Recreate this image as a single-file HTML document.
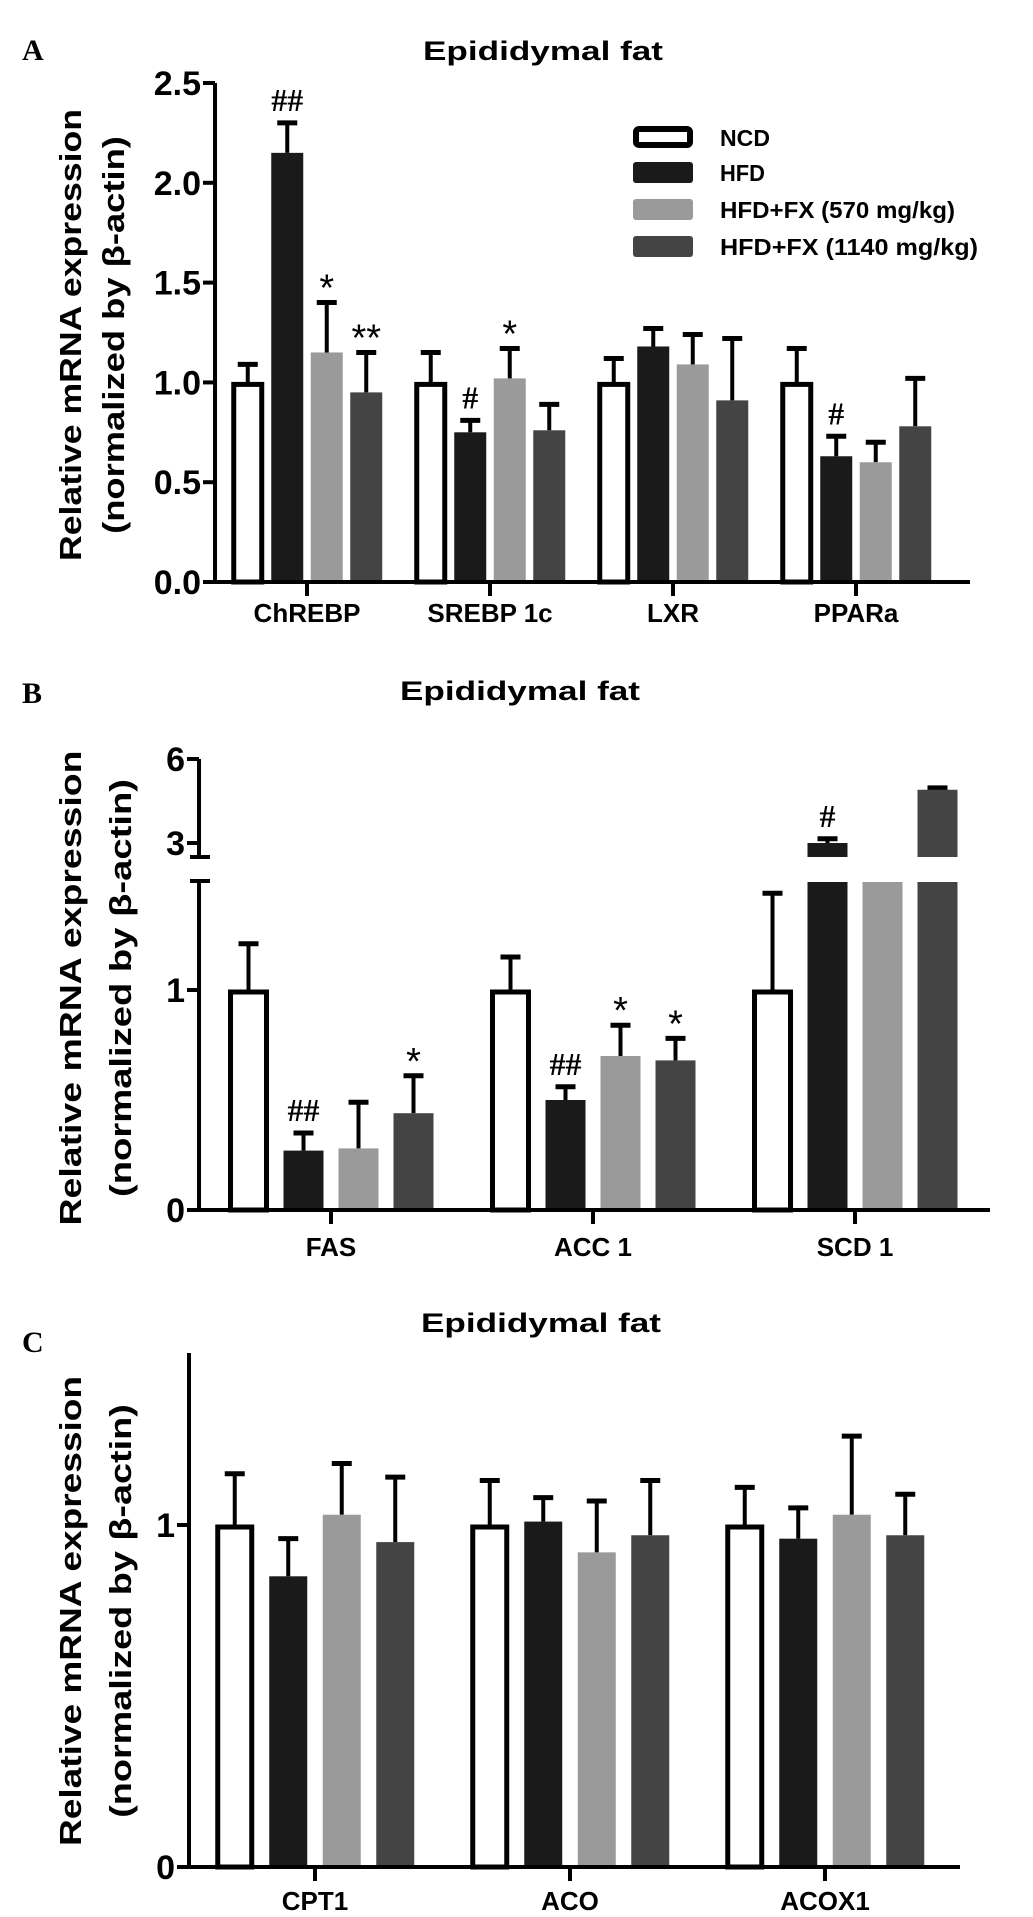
<!DOCTYPE html>
<html><head><meta charset="utf-8"><style>
html,body{margin:0;padding:0;background:#fff}
svg{display:block}
text{font-family:"Liberation Sans",sans-serif;font-weight:bold;fill:#000}
</style></head><body>
<svg id="fig" width="1033" height="1917" viewBox="0 0 1033 1917" xmlns="http://www.w3.org/2000/svg"></svg>
<script>
const groups=["NCD","HFD","HFD+FX (570 mg/kg)","HFD+FX (1140 mg/kg)"];
const fills=["#ffffff","#1a1a1a","#9a9a9a","#444444"];
// Panel A
const catsA=["ChREBP","SREBP 1c","LXR","PPARa"];
const valsA=[[1.0,2.15,1.15,0.95],[1.0,0.75,1.02,0.76],[1.0,1.18,1.09,0.91],[1.0,0.63,0.60,0.78]];
const errA=[[1.09,2.30,1.40,1.15],[1.15,0.81,1.17,0.89],[1.12,1.27,1.24,1.22],[1.17,0.73,0.70,1.02]];
const sigA=[["","##","*","**"],["","#","*",""],["","","",""],["","#","",""]];
const ticksA=[0,0.5,1.0,1.5,2.0,2.5];
const tickLabelsA=["0.0","0.5","1.0","1.5","2.0","2.5"];
// Panel B
const catsB=["FAS","ACC 1","SCD 1"];
const valsB=[[1.0,0.27,0.28,0.44],[1.0,0.50,0.70,0.68],[1.0,3.0,2.2,4.9]];
const errB=[[1.21,0.35,0.49,0.61],[1.15,0.56,0.84,0.78],[1.44,3.15,2.2,4.97]];
const sigB=[["","##","","*"],["","##","*","*"],["","#","",""]];
const ticksB=[0,1,3,6];
const tickLabelsB=["0","1","3","6"];
// Panel C
const catsC=["CPT1","ACO","ACOX1"];
const valsC=[[1.0,0.85,1.03,0.95],[1.0,1.01,0.92,0.97],[1.0,0.96,1.03,0.97]];
const errC=[[1.15,0.96,1.18,1.14],[1.13,1.08,1.07,1.13],[1.11,1.05,1.26,1.09]];
const ticksC=[0,1];
const tickLabelsC=["0","1"];

const svg=document.getElementById('fig');
const NS="http://www.w3.org/2000/svg";
function mk(tag,attrs,parent){const e=document.createElementNS(NS,tag);for(const k in attrs)e.setAttribute(k,attrs[k]);(parent||svg).appendChild(e);return e;}
function txt(s,attrs,parent){const e=mk('text',attrs,parent);e.textContent=s;return e;}

function yA(v){return 582-v*199.6;}
function yB(v){ if(v<=1.49) return 1210-v*220; if(v<2.6) return 882; return 843-(v-3)*28;}
function yC(v){return 1867-v*342;}

function panel(opt){
  const g=mk('g',{});
  
  
  const lt=txt(opt.letter,{x:22,y:opt.letterY,'font-size':30,style:'font-family:"Liberation Serif",serif'},g);
  
  
  const tt=txt("Epididymal fat",{x:opt.titleX,y:opt.titleY,'font-size':27,'text-anchor':'middle',textLength:240,lengthAdjust:'spacingAndGlyphs'},g);
  
  
  const yt=mk('g',{transform:`translate(0,${opt.ytCenter}) rotate(-90)`},g);
  
  
  txt("Relative mRNA expression",{x:0,y:opt.ytX1+11,'font-size':31,'text-anchor':'middle',textLength:opt.ytLen,lengthAdjust:'spacingAndGlyphs'},yt);
  txt("(normalized by β-actin)",{x:0,y:opt.ytX2+11,'font-size':31,'text-anchor':'middle',textLength:opt.ytLen*0.88,lengthAdjust:'spacingAndGlyphs'},yt);
  const y=opt.y, ax=opt.axisX, base=y(0);
  opt.cats.forEach((c,ci)=>{
    const cx=opt.cat0+ci*opt.catStep;
    for(let i=0;i<4;i++){
      const bx=cx+(i-1.5)*opt.step-opt.bw/2;
      const v=opt.vals[ci][i], e=opt.errs[ci][i];
      const bc=bx+opt.bw/2;
      if(e>v){
        const el=mk('line',{x1:bc,x2:bc,y1:y(v),y2:y(e),stroke:'#000','stroke-width':4},g);
        
        
        const cp=mk('line',{x1:bc-10,x2:bc+10,y1:y(e),y2:y(e),stroke:'#000','stroke-width':5},g);
        
        
      }
      let r;
      if(opt.broken && v>1.49){
        const top=y(v);
        let d=`M${bx},${base}V882H${bx+opt.bw}V${base}Z`;
        if(v>=2.6) d+=` M${bx},857V${top}H${bx+opt.bw}V857Z`;
        r=mk('path',{d:d,fill:fills[i]},g);
      } else {
        r=mk('rect',{x:i==0?bx+2:bx,y:i==0?y(v)+2:y(v),width:i==0?opt.bw-4:opt.bw,height:i==0?base-y(v)-2:base-y(v),fill:fills[i],stroke:i==0?'#000':'none','stroke-width':5},g);
      }
      
      
      const s=opt.sigs?opt.sigs[ci][i]:"";
      if(s){
        const star=s.indexOf('*')>=0;
        const st=txt(s,{x:bc,y:y(e)-(star?2:12),'font-size':star?38:32,'text-anchor':'middle',style:star?'font-weight:normal':'font-family:"Liberation Serif",serif;font-weight:bold'},g);
        
        
      }
    }
    const tk=mk('line',{x1:cx,x2:cx,y1:base,y2:base+14,stroke:'#000','stroke-width':4},g);
    
    
    const lb=txt(c,{x:cx,y:opt.xlabY,'font-size':26,'text-anchor':'middle'},g);
    
    
  });
  if(opt.broken){
    const ya=mk('path',{d:`M${ax},${base}V881 M${ax-9},881H${ax+11} M${ax-9},857H${ax+11} M${ax},857V${y(6)}`,stroke:'#000','stroke-width':4,fill:'none'},g);
    
  } else {
    mk('line',{x1:ax,x2:ax,y1:base,y2:opt.axisTop,stroke:'#000','stroke-width':4},g);
  }
  const xa=mk('line',{x1:ax-12,x2:opt.axisRight,y1:base,y2:base,stroke:'#000','stroke-width':4},g);
  
  
  opt.ticks.forEach((t,ti)=>{
    mk('line',{x1:ax-12,x2:ax,y1:y(t),y2:y(t),stroke:'#000','stroke-width':4},g);
    const tl=txt(opt.tickLabels[ti],{x:ax-14,y:y(t)+12,'font-size':34,'text-anchor':'end'},g);
    
    
  });
}

panel({name:'panel-a',letter:'A',letterY:60,titleX:543,titleY:60,ytCenter:335,ytX1:70,ytX2:113,ytLen:452,
  y:yA,axisX:215,axisTop:83,axisRight:970,cats:catsA,vals:valsA,errs:errA,sigs:sigA,cat0:307,catStep:183,step:39.5,bw:32,
  ticks:ticksA,tickLabels:tickLabelsA,xlabY:622});
panel({name:'panel-b',letter:'B',letterY:703,titleX:520,titleY:700,ytCenter:988,ytX1:70,ytX2:120,ytLen:475,
  y:yB,axisX:199,axisRight:990,cats:catsB,vals:valsB,errs:errB,sigs:sigB,cat0:331,catStep:262,step:55,bw:40,broken:true,
  ticks:ticksB,tickLabels:tickLabelsB,xlabY:1256});
panel({name:'panel-c',letter:'C',letterY:1352,titleX:541,titleY:1332,ytCenter:1611,ytX1:70,ytX2:120,ytLen:470,
  y:yC,axisX:189,axisTop:1353,axisRight:960,cats:catsC,vals:valsC,errs:errC,sigs:null,cat0:315,catStep:255,step:53.5,bw:38,
  ticks:ticksC,tickLabels:tickLabelsC,xlabY:1910});

const lg=mk('g',{});


const legY=[137,172,209,246];
groups.forEach((gname,i)=>{
  const e=mk('g',{},lg);
  
  
  mk('rect',{x:i==0?636:633,y:legY[i]-10+(i==0?2:0),width:i==0?54:60,height:i==0?16:21,rx:3,fill:fills[i],stroke:i==0?'#000':'none','stroke-width':6},e);
  txt(gname,{x:720,y:legY[i]+9,'font-size':23,textLength:[50,45,235,258][i],lengthAdjust:'spacingAndGlyphs'},e);
});
</script>
</body></html>
